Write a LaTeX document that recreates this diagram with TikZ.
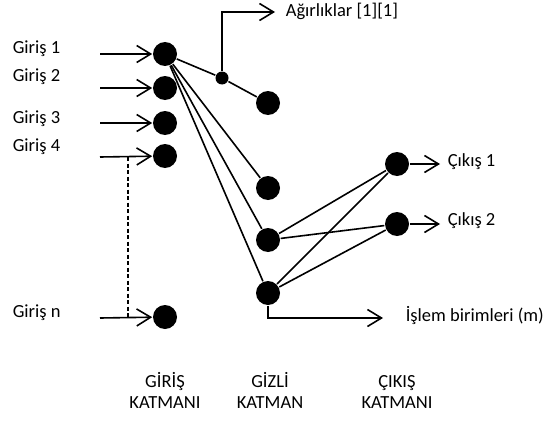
\documentclass[tikz,border=0pt]{standalone}
\usepackage{fontspec}
\setmainfont{Carlito}
\usetikzlibrary{arrows.meta}
\begin{document}
\begin{tikzpicture}[x=1pt,y=-1pt, line width=1.6pt,
  neuron/.style={circle,fill=black,draw=none,inner sep=0pt,minimum size=24pt},
  junc/.style={circle,fill=black,draw=none,inner sep=0pt,minimum size=13pt},
  lbl/.style={font=\fontsize{18.5}{22}\selectfont, inner sep=0pt, anchor=west},
  layercap/.style={font=\fontsize{18.5}{21}\selectfont, inner sep=0pt, align=center, anchor=base},
  arr/.style={-{Straight Barb[length=14pt,width=17pt,line width=1.6pt]}}]
\useasboundingbox (0,0) rectangle (543,428);
% input layer
\node[neuron] (i1) at (165,54) {};
\node[neuron] (i2) at (165,88) {};
\node[neuron] (i3) at (165,123) {};
\node[neuron] (i4) at (165,156) {};
\node[neuron] (in) at (165,317) {};
% hidden layer
\node[junc] (j) at (222,78) {};
\node[neuron] (h1) at (268,103) {};
\node[neuron] (h2) at (268,188) {};
\node[neuron] (h3) at (268,240) {};
\node[neuron] (h4) at (268,293) {};
% output layer
\node[neuron] (o1) at (397,164) {};
\node[neuron] (o2) at (397,224) {};
% input labels
\node[lbl] (l1) at (12,49) {Giriş 1};
\node[lbl] (l2) at (12,77) {Giriş 2};
\node[lbl] (l3) at (12,119) {Giriş 3};
\node[lbl] (l4) at (12,147) {Giriş 4};
\node[lbl] (ln) at (12,313) {Giriş n};
% input arrows
\coordinate (s1) at (100,54);
\coordinate (s2) at (100,88);
\coordinate (s3) at (100,123);
\coordinate (s4) at (100,157);
\coordinate (sn) at (100,318);
\draw[arr] (s1) -- (i1);
\draw[arr] (s2) -- (i2);
\draw[arr] (s3) -- (i3);
\draw[arr] (s4) -- (i4);
\draw[arr] (sn) -- (in);
\coordinate (d1) at (128,157);
\coordinate (d2) at (128,318);
\draw[line width=1.2pt, dash pattern=on 4pt off 2.5pt] (d1) -- (d2);
% connections
\draw (i1) -- (j) -- (h1);
\draw (i1) -- (h2);
\draw (i1) -- (h3);
\draw (i1) -- (h4);
\draw (h3) -- (o1);
\draw (h3) -- (o2);
\draw (h4) -- (o1);
\draw (h4) -- (o2);
% weights
\coordinate (a1) at (222,12);
\coordinate (a2) at (275,12);
\draw[arr] (j) -- (a1) -- (a2);
\node[lbl] (aw) at (285,11) {Ağırlıklar [1][1]};
% outputs
\coordinate (e1) at (440,164);
\coordinate (e2) at (440,224);
\draw[arr] (o1) -- (e1);
\draw[arr] (o2) -- (e2);
\node[lbl] (c1) at (447,162) {Çıkış 1};
\node[lbl] (c2) at (447,221) {Çıkış 2};
% processing units
\coordinate (p1) at (268,318);
\coordinate (p2) at (383,318);
\draw[arr] (h4) -- (p1) -- (p2);
\node[lbl] (pl) at (405,316) {İşlem birimleri (m)};
% layer captions
\node[layercap] (ci) at (165,408) {GİRİŞ\\KATMANI};
\node[layercap] (ch) at (270,408) {GİZLİ\\KATMAN};
\node[layercap] (co) at (397,408) {ÇIKIŞ\\KATMANI};
\end{tikzpicture}
\end{document}
